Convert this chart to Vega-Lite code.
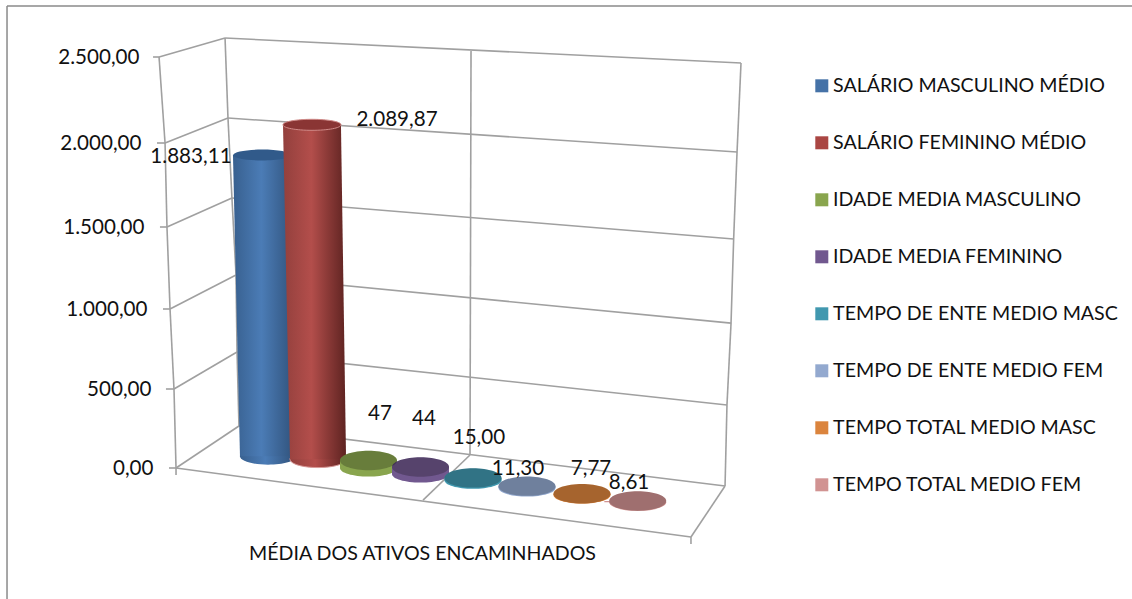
{
"$schema":"https://vega.github.io/schema/vega-lite/v6.json",
"width":1132,"height":599,"padding":0,"autosize":{"type":"none"},
"background":"white",
"config":{"view":{"stroke":null},"font":"Lato","locale":{"number":{"decimal":",","thousands":".","grouping":[3],"currency":["R$",""]}}},
"datasets":{
"serie":[
{"ordem":1,"serie":"SALÁRIO MASCULINO MÉDIO","valor":1883.11,"piso":73},
{"ordem":2,"serie":"SALÁRIO FEMININO MÉDIO","valor":2089.87,"piso":55},
{"ordem":3,"serie":"IDADE MEDIA MASCULINO","valor":47,"piso":0},
{"ordem":4,"serie":"IDADE MEDIA FEMININO","valor":44,"piso":-38},
{"ordem":5,"serie":"TEMPO DE ENTE MEDIO MASC","valor":15,"piso":-77},
{"ordem":6,"serie":"TEMPO DE ENTE MEDIO FEM","valor":11.3,"piso":-125},
{"ordem":7,"serie":"TEMPO TOTAL MEDIO MASC","valor":7.77,"piso":-169},
{"ordem":8,"serie":"TEMPO TOTAL MEDIO FEM","valor":8.61,"piso":-215}
],
"corpo":[
{"ordem":1,"y":1956.11,"xe":20.58,"xd":25.66},
{"ordem":1,"y":73,"xe":21.2,"xd":26.15},
{"ordem":2,"y":2144.87,"xe":25.0,"xd":30.12},
{"ordem":2,"y":55,"xe":25.62,"xd":30.57}
],
"grade":[
{"tipo":"moldura","x":0.62,"y":2796,"x2":100,"y2":2796},
{"tipo":"moldura","x":0.62,"y":2796,"x2":0.62,"y2":-829},
{"tipo":"grade","x":19.88,"y":2610,"x2":65.46,"y2":2465},
{"tipo":"grade","x":20.14,"y":2145,"x2":65.11,"y2":1946},
{"tipo":"grade","x":20.49,"y":1673,"x2":64.81,"y2":1427},
{"tipo":"grade","x":20.85,"y":1207,"x2":64.58,"y2":912},
{"tipo":"grade","x":20.94,"y":731,"x2":64.22,"y2":399},
{"tipo":"grade","x":21.11,"y":266,"x2":64.05,"y2":-114},
{"tipo":"grade","x":14.05,"y":2500,"x2":19.88,"y2":2610},
{"tipo":"grade","x":14.58,"y":2000,"x2":20.14,"y2":2145},
{"tipo":"grade","x":14.75,"y":1500,"x2":20.49,"y2":1673},
{"tipo":"grade","x":15.02,"y":1000,"x2":20.85,"y2":1207},
{"tipo":"grade","x":15.37,"y":500,"x2":20.94,"y2":731},
{"tipo":"grade","x":15.55,"y":0,"x2":21.11,"y2":266},
{"tipo":"grade","x":14.05,"y":2500,"x2":14.58,"y2":2000},
{"tipo":"grade","x":14.58,"y":2000,"x2":14.75,"y2":1500},
{"tipo":"grade","x":14.75,"y":1500,"x2":15.02,"y2":1000},
{"tipo":"grade","x":15.02,"y":1000,"x2":15.37,"y2":500},
{"tipo":"grade","x":15.37,"y":500,"x2":15.55,"y2":0},
{"tipo":"grade","x":19.88,"y":2610,"x2":20.14,"y2":2145},
{"tipo":"grade","x":20.14,"y":2145,"x2":20.49,"y2":1673},
{"tipo":"grade","x":20.49,"y":1673,"x2":20.85,"y2":1207},
{"tipo":"grade","x":20.85,"y":1207,"x2":20.94,"y2":731},
{"tipo":"grade","x":20.94,"y":731,"x2":21.11,"y2":266},
{"tipo":"grade","x":65.46,"y":2465,"x2":65.11,"y2":1946},
{"tipo":"grade","x":65.11,"y":1946,"x2":64.81,"y2":1427},
{"tipo":"grade","x":64.81,"y":1427,"x2":64.58,"y2":912},
{"tipo":"grade","x":64.58,"y":912,"x2":64.22,"y2":399},
{"tipo":"grade","x":64.22,"y":399,"x2":64.05,"y2":-114},
{"tipo":"grade","x":41.61,"y":2535,"x2":41.52,"y2":82},
{"tipo":"grade","x":41.52,"y":82,"x2":37.37,"y2":-203},
{"tipo":"grade","x":15.55,"y":0,"x2":61.04,"y2":-437},
{"tipo":"grade","x":61.04,"y":-437,"x2":64.05,"y2":-114},
{"tipo":"grade","x":61.04,"y":-437,"x2":61.04,"y2":-481},
{"tipo":"grade","x":15.55,"y":0,"x2":15.55,"y2":-44},
{"tipo":"grade","x":13.52,"y":2500,"x2":14.05,"y2":2500},
{"tipo":"grade","x":13.87,"y":2000,"x2":14.58,"y2":2000},
{"tipo":"grade","x":14.13,"y":1500,"x2":14.75,"y2":1500},
{"tipo":"grade","x":14.4,"y":1000,"x2":15.02,"y2":1000},
{"tipo":"grade","x":14.66,"y":500,"x2":15.37,"y2":500},
{"tipo":"grade","x":14.93,"y":0,"x2":15.55,"y2":0}
],
"rotulos":[
{"texto":"1.883,11","x":16.87,"y":1917},
{"texto":"2.089,87","x":35.07,"y":2134},
{"texto":"47","x":33.57,"y":342},
{"texto":"44","x":37.46,"y":310},
{"texto":"15,00","x":42.31,"y":190},
{"texto":"11,30","x":45.76,"y":-6},
{"texto":"7,77","x":52.21,"y":-6},
{"texto":"8,61","x":55.57,"y":-95}
]},
"layer":[
{"data":{"name":"grade"},"transform":[{"filter":"datum.tipo==='moldura'"}],
 "mark":{"type":"rule","color":"#8a8a8a","strokeWidth":1.5},
 "encoding":{
  "x":{"field":"x","type":"quantitative","scale":{"domain":[0,100],"nice":false,"zero":false},"axis":null},
  "x2":{"field":"x2"},
  "y":{"field":"y","type":"quantitative","scale":{"domain":[-829,0,500,1000,1500,2000,2500,2831],"range":[599,468,389,309,227,143,57,0],"nice":false,"zero":false},"axis":null},
  "y2":{"field":"y2"}}},
{"data":{"name":"grade"},"transform":[{"filter":"datum.tipo==='grade'"}],
 "mark":{"type":"rule","color":"#a0a0a0","strokeWidth":1.6},
 "encoding":{
  "x":{"field":"x","type":"quantitative","scale":{"domain":[0,100],"nice":false,"zero":false},
   "axis":{"orient":"bottom","title":"MÉDIA DOS ATIVOS ENCAMINHADOS","labels":false,"ticks":false,"domain":false,"grid":false,"titleFont":"Lato","titleFontSize":19.6,"titleFontWeight":"normal","titleColor":"#111","titleX":422,"titleY":-46,"titleAlign":"center","titleBaseline":"middle"}},
  "x2":{"field":"x2"},
  "y":{"field":"y","type":"quantitative","scale":{"domain":[-829,0,500,1000,1500,2000,2500,2831],"range":[599,468,389,309,227,143,57,0],"nice":false,"zero":false},
   "axis":{"orient":"left","title":null,"values":[0,500,1000,1500,2000,2500],"format":",.2f","offset":-153,"ticks":false,"domain":false,"grid":false,"labelFont":"Lato","labelFontSize":20.6,"labelColor":"#111",
    "labelPadding":{"condition":[{"test":"datum.value===2500","value":14},{"test":"datum.value===2000","value":12},{"test":"datum.value===1500","value":9},{"test":"datum.value===1000","value":6},{"test":"datum.value===500","value":2}],"value":0}}},
  "y2":{"field":"y2"}}},
{"data":{"name":"serie"},"transform":[{"filter":"datum.ordem>2"}],
 "mark":{"type":"point","shape":"M-1,0C-1,-0.17 -0.55,-0.3 0,-0.3C0.55,-0.3 1,-0.17 1,0C1,0.17 0.55,0.3 0,0.3C-0.55,0.3 -1,0.17 -1,0Z","filled":true,"size":3249,"opacity":1},
 "encoding":{
  "x":{"field":"ordem","type":"quantitative","scale":{"domain":[1,2,3,4,5,6,7,8],"range":[263,315,368.5,420.5,473,527,582,637.7],"nice":false,"zero":false},"axis":null},
  "y":{"field":"piso","type":"quantitative","scale":{"domain":[-819,2925],"nice":false,"zero":false},"axis":null},
  "color":{"field":"serie","type":"nominal","sort":null,
   "scale":{"domain":["SALÁRIO MASCULINO MÉDIO","SALÁRIO FEMININO MÉDIO","IDADE MEDIA MASCULINO","IDADE MEDIA FEMININO","TEMPO DE ENTE MEDIO MASC","TEMPO DE ENTE MEDIO FEM","TEMPO TOTAL MEDIO MASC","TEMPO TOTAL MEDIO FEM"],
    "range":["#4572A7","#AA4643","#89A54E","#71588F","#4198AF","#93A9CF","#DB843D","#D19392"]},
   "legend":{"title":null,"orient":"none","legendX":812,"legendY":76,"symbolType":"square","symbolSize":169,"symbolStrokeWidth":0,"labelFont":"Lato","labelFontSize":19.6,"labelColor":"#111","labelOffset":1.5,"labelLimit":320,"rowPadding":36,"padding":0,"symbolOpacity":1}}}},
{"data":{"name":"serie"},"transform":[{"filter":"datum.ordem===1"}],
 "mark":{"type":"point","shape":"M-1,0C-1,-0.17 -0.55,-0.3 0,-0.3C0.55,-0.3 1,-0.17 1,0C1,0.17 0.55,0.3 0,0.3C-0.55,0.3 -1,0.17 -1,0Z","filled":true,"size":3136,"opacity":1,"color":{"gradient":"linear","x1":0,"x2":1,"y1":0,"y2":0,"stops":[{"offset":0,"color":"#38608f"},{"offset":0.45,"color":"#4b7cb6"},{"offset":1,"color":"#2f5078"}]}},
 "encoding":{
  "x":{"field":"ordem","type":"quantitative","scale":{"domain":[1,2,3,4,5,6,7,8],"range":[268,318,368.5,420.5,473,527,582,637.7],"nice":false,"zero":false},"axis":null},
  "y":{"field":"piso","type":"quantitative","scale":{"domain":[-819,2925],"nice":false,"zero":false},"axis":null}}},
{"data":{"name":"corpo"},"transform":[{"filter":"datum.ordem===1"}],
 "mark":{"type":"area","orient":"horizontal","color":{"gradient":"linear","x1":0,"x2":1,"y1":0,"y2":0,"stops":[{"offset":0,"color":"#38608f"},{"offset":0.45,"color":"#4b7cb6"},{"offset":1,"color":"#2f5078"}]}},
 "encoding":{
  "x":{"field":"xe","type":"quantitative","scale":{"domain":[0,100],"nice":false,"zero":false},"axis":null,"stack":null},
  "x2":{"field":"xd"},
  "y":{"field":"y","type":"quantitative","scale":{"domain":[-819,2925],"nice":false,"zero":false},"axis":null}}},
{"data":{"name":"serie"},"transform":[{"filter":"datum.ordem===1"},{"calculate":"datum.piso+datum.valor","as":"topo"}],
 "mark":{"type":"point","shape":"M-1,0C-1,-0.11 -0.55,-0.19 0,-0.19C0.55,-0.19 1,-0.11 1,0C1,0.11 0.55,0.19 0,0.19C-0.55,0.19 -1,0.11 -1,0Z","filled":true,"size":3306,"opacity":1,"color":"#315a8a"},
 "encoding":{
  "x":{"field":"ordem","type":"quantitative","scale":{"domain":[1,2,3,4,5,6,7,8],"range":[262,312,368.5,420.5,473,527,582,637.7],"nice":false,"zero":false},"axis":null},
  "y":{"field":"topo","type":"quantitative","scale":{"domain":[-819,2925],"nice":false,"zero":false},"axis":null}}},
{"data":{"name":"serie"},"transform":[{"filter":"datum.ordem===2"}],
 "mark":{"type":"point","shape":"M-1,0C-1,-0.17 -0.55,-0.3 0,-0.3C0.55,-0.3 1,-0.17 1,0C1,0.17 0.55,0.3 0,0.3C-0.55,0.3 -1,0.17 -1,0Z","filled":true,"size":3136,"opacity":1,"stroke":"#d99a98","strokeWidth":1,"color":{"gradient":"linear","x1":0,"x2":1,"y1":0,"y2":0,"stops":[{"offset":0,"color":"#93403d"},{"offset":0.45,"color":"#b34e4b"},{"offset":1,"color":"#5e2321"}]}},
 "encoding":{
  "x":{"field":"ordem","type":"quantitative","scale":{"domain":[1,2,3,4,5,6,7,8],"range":[268,318,368.5,420.5,473,527,582,637.7],"nice":false,"zero":false},"axis":null},
  "y":{"field":"piso","type":"quantitative","scale":{"domain":[-819,2925],"nice":false,"zero":false},"axis":null}}},
{"data":{"name":"corpo"},"transform":[{"filter":"datum.ordem===2"}],
 "mark":{"type":"area","orient":"horizontal","color":{"gradient":"linear","x1":0,"x2":1,"y1":0,"y2":0,"stops":[{"offset":0,"color":"#93403d"},{"offset":0.45,"color":"#b34e4b"},{"offset":1,"color":"#5e2321"}]}},
 "encoding":{
  "x":{"field":"xe","type":"quantitative","scale":{"domain":[0,100],"nice":false,"zero":false},"axis":null,"stack":null},
  "x2":{"field":"xd"},
  "y":{"field":"y","type":"quantitative","scale":{"domain":[-819,2925],"nice":false,"zero":false},"axis":null}}},
{"data":{"name":"serie"},"transform":[{"filter":"datum.ordem===2"},{"calculate":"datum.piso+datum.valor","as":"topo"}],
 "mark":{"type":"point","shape":"M-1,0C-1,-0.11 -0.55,-0.19 0,-0.19C0.55,-0.19 1,-0.11 1,0C1,0.11 0.55,0.19 0,0.19C-0.55,0.19 -1,0.11 -1,0Z","filled":true,"size":3364,"opacity":1,"color":"#8a3534","stroke":"#d08a88","strokeWidth":1},
 "encoding":{
  "x":{"field":"ordem","type":"quantitative","scale":{"domain":[1,2,3,4,5,6,7,8],"range":[262,312,368.5,420.5,473,527,582,637.7],"nice":false,"zero":false},"axis":null},
  "y":{"field":"topo","type":"quantitative","scale":{"domain":[-819,2925],"nice":false,"zero":false},"axis":null}}},
{"data":{"name":"serie"},"transform":[{"filter":"datum.ordem>2"},{"calculate":"datum.piso+datum.valor","as":"topo"}],
 "mark":{"type":"bar","width":57},
 "encoding":{
  "x":{"field":"ordem","type":"quantitative","scale":{"domain":[1,2,3,4,5,6,7,8],"range":[263,315,368.5,420.5,473,527,582,637.7],"nice":false,"zero":false},"axis":null},
  "y":{"field":"topo","type":"quantitative","scale":{"domain":[-819,2925],"nice":false,"zero":false},"axis":null},
  "y2":{"field":"piso"},
  "color":{"field":"serie","type":"nominal","legend":null,
   "scale":{"domain":["SALÁRIO MASCULINO MÉDIO","SALÁRIO FEMININO MÉDIO","IDADE MEDIA MASCULINO","IDADE MEDIA FEMININO","TEMPO DE ENTE MEDIO MASC","TEMPO DE ENTE MEDIO FEM","TEMPO TOTAL MEDIO MASC","TEMPO TOTAL MEDIO FEM"],
    "range":["#4572A7","#AA4643","#89A54E","#71588F","#4198AF","#93A9CF","#DB843D","#D19392"]}}}},
{"data":{"name":"serie"},"transform":[{"filter":"datum.ordem>2"},{"calculate":"datum.piso+datum.valor","as":"topo"}],
 "mark":{"type":"point","shape":"M-1,0C-1,-0.19 -0.55,-0.34 0,-0.34C0.55,-0.34 1,-0.19 1,0C1,0.19 0.55,0.34 0,0.34C-0.55,0.34 -1,0.19 -1,0Z","filled":true,"size":3249,"opacity":1},
 "encoding":{
  "x":{"field":"ordem","type":"quantitative","scale":{"domain":[1,2,3,4,5,6,7,8],"range":[263,315,368.5,420.5,473,527,582,637.7],"nice":false,"zero":false},"axis":null},
  "y":{"field":"topo","type":"quantitative","scale":{"domain":[-819,2925],"nice":false,"zero":false},"axis":null},
  "color":{"field":"serie","type":"nominal","legend":null,
   "scale":{"domain":["SALÁRIO MASCULINO MÉDIO","SALÁRIO FEMININO MÉDIO","IDADE MEDIA MASCULINO","IDADE MEDIA FEMININO","TEMPO DE ENTE MEDIO MASC","TEMPO DE ENTE MEDIO FEM","TEMPO TOTAL MEDIO MASC","TEMPO TOTAL MEDIO FEM"],
    "range":["#4572A7","#AA4643","#89A54E","#71588F","#4198AF","#93A9CF","#DB843D","#D19392"]}}}},
{"data":{"name":"serie"},"transform":[{"filter":"datum.ordem>2"},{"calculate":"datum.piso+datum.valor","as":"topo"}],
 "mark":{"type":"point","shape":"M-1,0C-1,-0.19 -0.55,-0.34 0,-0.34C0.55,-0.34 1,-0.19 1,0C1,0.19 0.55,0.34 0,0.34C-0.55,0.34 -1,0.19 -1,0Z","filled":true,"size":3249,"opacity":0.24,"color":"#000"},
 "encoding":{
  "x":{"field":"ordem","type":"quantitative","scale":{"domain":[1,2,3,4,5,6,7,8],"range":[263,315,368.5,420.5,473,527,582,637.7],"nice":false,"zero":false},"axis":null},
  "y":{"field":"topo","type":"quantitative","scale":{"domain":[-819,2925],"nice":false,"zero":false},"axis":null}}},
{"data":{"name":"rotulos"},
 "mark":{"type":"text","font":"Lato","fontSize":20.6,"color":"#111","align":"center","baseline":"middle"},
 "encoding":{
  "x":{"field":"x","type":"quantitative","scale":{"domain":[0,100],"nice":false,"zero":false},"axis":null},
  "y":{"field":"y","type":"quantitative","scale":{"domain":[-829,0,500,1000,1500,2000,2500,2831],"range":[599,468,389,309,227,143,57,0],"nice":false,"zero":false},"axis":null},
  "text":{"field":"texto"}}}
],
"resolve":{"scale":{"x":"independent","y":"independent"}}
}
